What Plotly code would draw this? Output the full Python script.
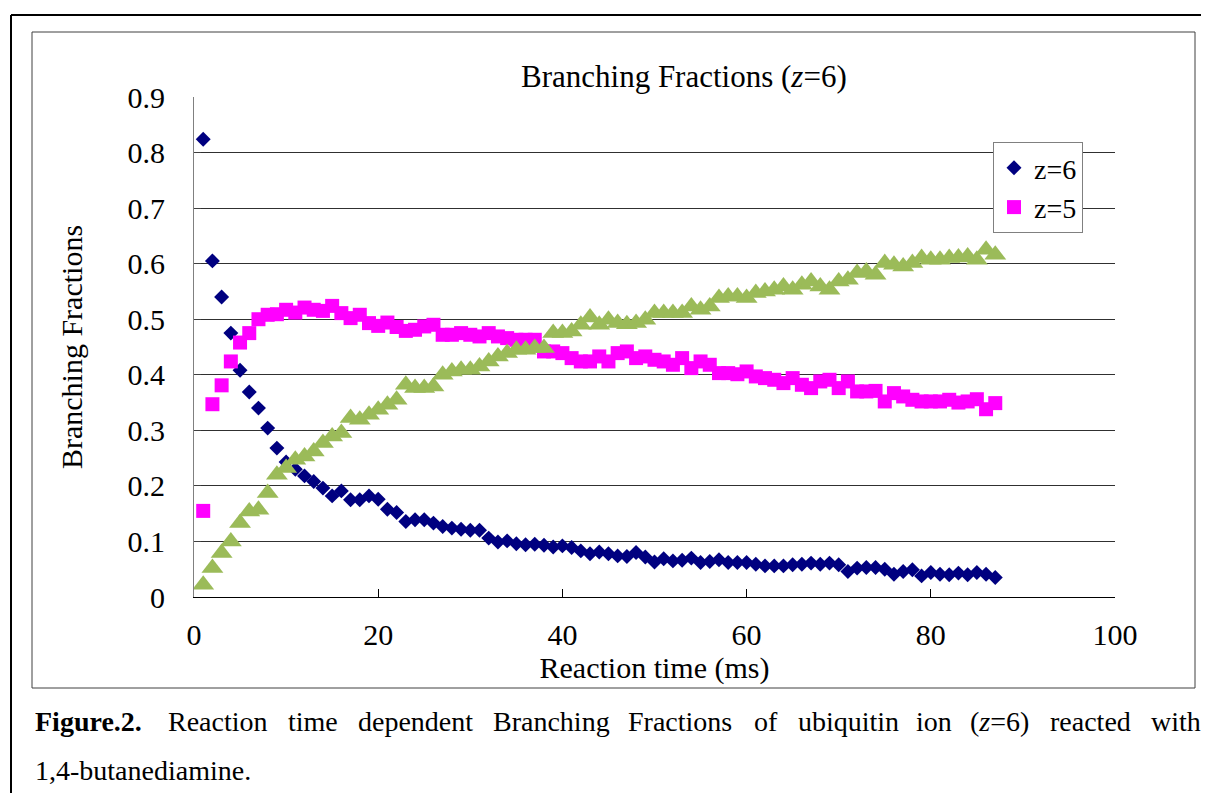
import plotly.graph_objects as go

# ---------------- data ----------------
time_ms = list(range(1, 88))

z6 = [0.824, 0.605, 0.540, 0.475, 0.408, 0.369, 0.340, 0.304, 0.268, 0.243,
      0.230, 0.218, 0.208, 0.196, 0.182, 0.191, 0.175, 0.175, 0.182, 0.176,
      0.158, 0.152, 0.136, 0.139, 0.139, 0.133, 0.127, 0.124, 0.122, 0.120,
      0.120, 0.106, 0.099, 0.101, 0.096, 0.094, 0.095, 0.093, 0.090, 0.092,
      0.089, 0.083, 0.078, 0.081, 0.078, 0.074, 0.073, 0.080, 0.072, 0.063,
      0.069, 0.065, 0.066, 0.070, 0.062, 0.064, 0.067, 0.062, 0.062, 0.062,
      0.059, 0.056, 0.056, 0.056, 0.058, 0.059, 0.061, 0.059, 0.061, 0.058,
      0.046, 0.052, 0.053, 0.053, 0.050, 0.041, 0.046, 0.049, 0.038, 0.044,
      0.041, 0.040, 0.043, 0.040, 0.044, 0.041, 0.035]

z5 = [0.155, 0.347, 0.381, 0.424, 0.458, 0.475, 0.500, 0.508, 0.509, 0.517,
      0.512, 0.521, 0.517, 0.515, 0.524, 0.511, 0.502, 0.508, 0.493, 0.488,
      0.494, 0.486, 0.479, 0.481, 0.487, 0.490, 0.472, 0.472, 0.475, 0.472,
      0.469, 0.475, 0.469, 0.466, 0.463, 0.463, 0.463, 0.442, 0.442, 0.439,
      0.430, 0.424, 0.424, 0.433, 0.424, 0.439, 0.442, 0.430, 0.433, 0.427,
      0.424, 0.418, 0.430, 0.412, 0.424, 0.418, 0.403, 0.403, 0.401, 0.406,
      0.397, 0.394, 0.391, 0.385, 0.394, 0.382, 0.376, 0.388, 0.391, 0.376,
      0.388, 0.370, 0.370, 0.371, 0.352, 0.367, 0.361, 0.355, 0.352, 0.352,
      0.352, 0.355, 0.350, 0.352, 0.356, 0.338, 0.349]

z4 = [0.022, 0.052, 0.079, 0.100, 0.133, 0.154, 0.157, 0.187, 0.220, 0.232,
      0.247, 0.253, 0.262, 0.277, 0.289, 0.295, 0.322, 0.319, 0.328, 0.337,
      0.346, 0.355, 0.382, 0.376, 0.376, 0.379, 0.400, 0.406, 0.409, 0.409,
      0.415, 0.424, 0.433, 0.439, 0.445, 0.445, 0.448, 0.448, 0.475, 0.475,
      0.478, 0.490, 0.503, 0.490, 0.499, 0.493, 0.491, 0.493, 0.499, 0.511,
      0.511, 0.511, 0.511, 0.523, 0.517, 0.523, 0.538, 0.541, 0.541, 0.538,
      0.547, 0.550, 0.553, 0.559, 0.553, 0.562, 0.568, 0.559, 0.553, 0.568,
      0.571, 0.583, 0.586, 0.580, 0.601, 0.598, 0.595, 0.601, 0.610, 0.607,
      0.607, 0.610, 0.611, 0.613, 0.607, 0.625, 0.616]

x_ticks = [0, 20, 40, 60, 80, 100]
y_ticks = [0, 0.1, 0.2, 0.3, 0.4, 0.5, 0.6, 0.7, 0.8, 0.9]
y_tick_labels = ["0", "0.1", "0.2", "0.3", "0.4", "0.5", "0.6", "0.7", "0.8", "0.9"]

caption_words = ["Figure.2.", "Reaction", "time", "dependent", "Branching", "Fractions",
                 "of", "ubiquitin", "ion", "(<i>z</i>=6)", "reacted", "with"]
caption_line2 = "1,4-butanediamine."

# ---------------- layout helpers ----------------
# page coordinates (the html body adds an 8 px margin, so the figure is shrunk by it)
PAGE_OFF = 8
W, H = 1209, 793
L, R, T, B = 194, 1115, 97, 597
FONT = "Liberation Serif, Times New Roman, serif"


def px(x):
    return (x - L) / (R - L)


def py(y):
    return (B - y) / (B - T)


fig = go.Figure()
fig.add_trace(go.Scatter(x=time_ms, y=z6, mode="markers", name="z=6",
                         marker=dict(symbol="diamond", size=11.5, color="#000080")))
fig.add_trace(go.Scatter(x=time_ms, y=z5, mode="markers", name="z=5",
                         marker=dict(symbol="square", size=14, color="#FF00FF")))
fig.add_trace(go.Scatter(x=time_ms, y=z4, mode="markers", name="z=4", showlegend=False,
                         marker=dict(symbol="triangle-up", size=19, color="#9BBB59")))

shapes = [
    # outer page frame (continues beyond the picture)
    dict(type="line", xref="paper", yref="paper", x0=px(11), y0=py(15), x1=px(1260), y1=py(15),
         line=dict(color="#000000", width=2)),
    dict(type="line", xref="paper", yref="paper", x0=px(11), y0=py(15), x1=px(11), y1=py(840),
         line=dict(color="#000000", width=2)),
    # chart frame
    dict(type="rect", xref="paper", yref="paper", x0=px(32), y0=py(32), x1=px(1195), y1=py(688),
         line=dict(color="#404040", width=1)),
]

annotations = [
    dict(xref="paper", yref="paper", x=px(684), y=py(77), text="Branching Fractions (<i>z</i>=6)",
         showarrow=False, xanchor="center", yanchor="middle",
         font=dict(family=FONT, size=31, color="#000000")),
]

word_x = [33, 166, 286, 356, 491, 626, 752, 796, 914, 968, 1048, 1149]
for wx, w in zip(word_x, caption_words):
    txt = "<b>" + w + "</b>" if w.startswith("Figure") else w
    annotations.append(dict(xref="paper", yref="paper", x=px(wx), y=py(721), text=txt,
                            showarrow=False, xanchor="left", yanchor="middle",
                            font=dict(family=FONT, size=28, color="#000000")))
annotations.append(dict(xref="paper", yref="paper", x=px(33), y=py(771), text=caption_line2,
                        showarrow=False, xanchor="left", yanchor="middle",
                        font=dict(family=FONT, size=28, color="#000000")))

fig.update_layout(
    width=W - PAGE_OFF, height=H - PAGE_OFF,
    margin=dict(l=L - PAGE_OFF, r=W - R, t=T - PAGE_OFF, b=H - B),
    paper_bgcolor="white", plot_bgcolor="white",
    font=dict(family=FONT, size=30, color="#000000"),
    shapes=shapes, annotations=annotations,
    showlegend=True,
    legend=dict(x=px(993), y=py(142), xanchor="left", yanchor="top",
                bgcolor="white", bordercolor="#808080", borderwidth=1,
                font=dict(family=FONT, size=28, color="#000000"),
                itemwidth=30, tracegroupgap=0),
    xaxis=dict(range=[0, 100], tickvals=x_ticks, ticktext=[str(v) for v in x_ticks],
               ticks="inside", ticklen=8, tickcolor="#000000", tickwidth=1,
               showline=True, linecolor="#000000", linewidth=1,
               showgrid=False, zeroline=False, ticklabelstandoff=11,
               tickfont=dict(family=FONT, size=30),
               title=dict(text="Reaction time (ms)", standoff=1,
                          font=dict(family=FONT, size=30))),
    yaxis=dict(range=[0, 0.9], tickvals=y_ticks, ticktext=y_tick_labels,
               ticks="inside", ticklen=7, tickcolor="#404040", tickwidth=1,
               showline=True, linecolor="#808080", linewidth=1,
               showgrid=True, gridcolor="#303030", gridwidth=1, zeroline=False,
               ticklabelstandoff=22,
               tickfont=dict(family=FONT, size=30),
               title=dict(text="Branching Fractions", standoff=36,
                          font=dict(family=FONT, size=30))),
)

fig.write_html("out.html")
